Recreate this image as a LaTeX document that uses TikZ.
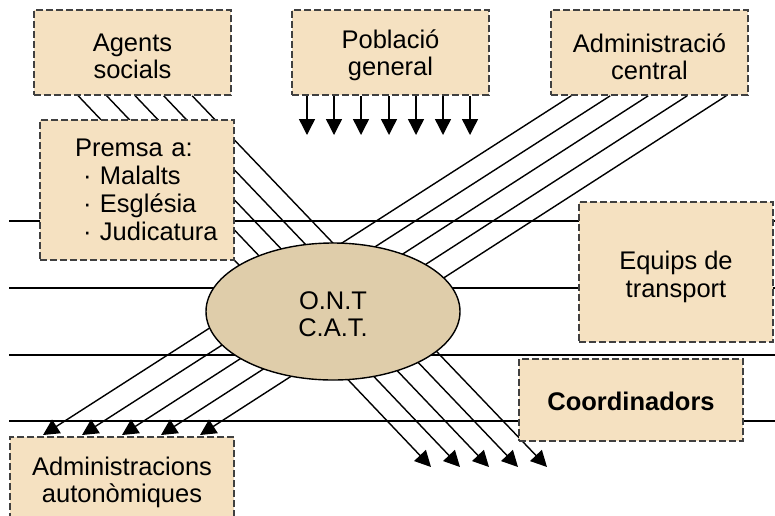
\documentclass[tikz,border=0pt]{standalone}
\usepackage{fontspec}
\setmainfont{Liberation Sans}
\usepackage{tikz}
\usetikzlibrary{ shapes.geometric, % For the ellipse in the middle
                 arrows.meta,      % For the filled arrow tips
                 backgrounds,      % For putting the lines behind the boxes
                 calc,             % For offsets from the box anchors
               }
\definecolor{boxfill}{RGB}{245,225,193}
\definecolor{hubfill}{RGB}{223,205,170}
\definecolor{boxline}{RGB}{64,64,64}
\tikzstyle{box} = [rectangle, draw=boxline, fill=boxfill, line width=1.6pt, dash pattern=on 7pt off 3pt, align=center, inner sep=0pt]
\tikzstyle{hub} = [ellipse, draw=black, fill=hubfill, line width=1.4pt, minimum width=254pt, minimum height=137pt, align=center, inner sep=0pt]
\tikzstyle{wire} = [line width=1.4pt]
\tikzset{feed/.style={line width=1.4pt, arrows={-Triangle[length=16pt, width=16pt]}}}
\newcommand{\lift}[1]{\rule{0pt}{#1}}

\begin{document}
\begin{tikzpicture}[x=1pt, y=-1pt, font=\fontsize{25.5}{27}\selectfont]
  \useasboundingbox (0,0) rectangle (775,515);
  \clip (0,0) rectangle (775,515);

  \node (agents) [box, minimum width=197pt, minimum height=85pt] at (132.5, 52.5) {\lift{25pt}Agents\\socials};
  \node (poblacio) [box, minimum width=197pt, minimum height=85pt] at (390.5, 52.5) {\lift{25pt}Població\\general};
  \node (central) [box, minimum width=197pt, minimum height=85pt] at (649.5, 52.5) {\lift{27pt}Administració\\central};
  \node (premsa) [box, minimum width=194pt, minimum height=140pt, text width=175pt, align=left,
                  font=\fontsize{25.5}{28}\selectfont] at (137, 190)
    {\hspace*{25.5pt}Premsa a:\\\hspace*{33.5pt}· Malalts\\\hspace*{33.5pt}· Església\\\hspace*{33.5pt}· Judicatura};
  \node (equips) [box, minimum width=194pt, minimum height=140pt, font=\fontsize{25.5}{28}\selectfont] at (676, 272) {\lift{28pt}Equips de\\transport};
  \node (coord) [box, minimum width=224pt, minimum height=82pt, font=\fontsize{25.5}{27}\selectfont\bfseries] at (631, 400) {\lift{21pt}Coordinadors};
  \node (autonom) [box, minimum width=224pt, minimum height=86pt] at (122, 480) {\lift{23pt}Administracions\\autonòmiques};
  \node (ont) [hub] at (333, 311.5) {\lift{23pt}O.N.T\\C.A.T.};

  \begin{scope}[on background layer]
    % horizontal lines
    \coordinate (w1) at (9, 221);  \coordinate (e1) at (775, 221);
    \coordinate (w2) at (9, 288);  \coordinate (e2) at (775, 288);
    \coordinate (w3) at (9, 355);  \coordinate (e3) at (775, 355);
    \coordinate (w4) at (9, 421);  \coordinate (e4) at (775, 421);
    \draw [wire] (w1) -- (e1);
    \draw [wire] (w2) -- (e2);
    \draw [wire] (w3) -- (e3);
    \draw [wire] (w4) -- (e4);

    % Agents socials, down to the right
    \coordinate (s1) at (431, 467);
    \coordinate (s2) at (460, 467);
    \coordinate (s3) at (489, 467);
    \coordinate (s4) at (518, 467);
    \coordinate (s5) at (547, 467);
    \draw [feed] ($(agents.south west)+(45,0)$) -- (s1);
    \draw [feed] ($(agents.south west)+(73.5,0)$) -- (s2);
    \draw [feed] ($(agents.south west)+(102,0)$) -- (s3);
    \draw [feed] ($(agents.south west)+(130.5,0)$) -- (s4);
    \draw [feed] ($(agents.south west)+(159,0)$) -- (s5);

    % Administracio central, down to the left
    \coordinate (c1) at (43, 435);
    \coordinate (c2) at (82, 435);
    \coordinate (c3) at (122, 435);
    \coordinate (c4) at (161, 435);
    \coordinate (c5) at (200, 435);
    \draw [feed] ($(central.south west)+(21,0)$) -- (c1);
    \draw [feed] ($(central.south west)+(60,0)$) -- (c2);
    \draw [feed] ($(central.south west)+(98,0)$) -- (c3);
    \draw [feed] ($(central.south west)+(137,0)$) -- (c4);
    \draw [feed] ($(central.south west)+(176,0)$) -- (c5);

    % Poblacio general, straight down
    \coordinate (p1) at (307, 135);
    \coordinate (p2) at (334, 135);
    \coordinate (p3) at (361, 135);
    \coordinate (p4) at (389, 135);
    \coordinate (p5) at (416, 135);
    \coordinate (p6) at (443, 135);
    \coordinate (p7) at (470, 135);
    \draw [feed] (poblacio.south west -| p1) -- (p1);
    \draw [feed] (poblacio.south west -| p2) -- (p2);
    \draw [feed] (poblacio.south west -| p3) -- (p3);
    \draw [feed] (poblacio.south west -| p4) -- (p4);
    \draw [feed] (poblacio.south west -| p5) -- (p5);
    \draw [feed] (poblacio.south west -| p6) -- (p6);
    \draw [feed] (poblacio.south west -| p7) -- (p7);
  \end{scope}
\end{tikzpicture}
\end{document}
